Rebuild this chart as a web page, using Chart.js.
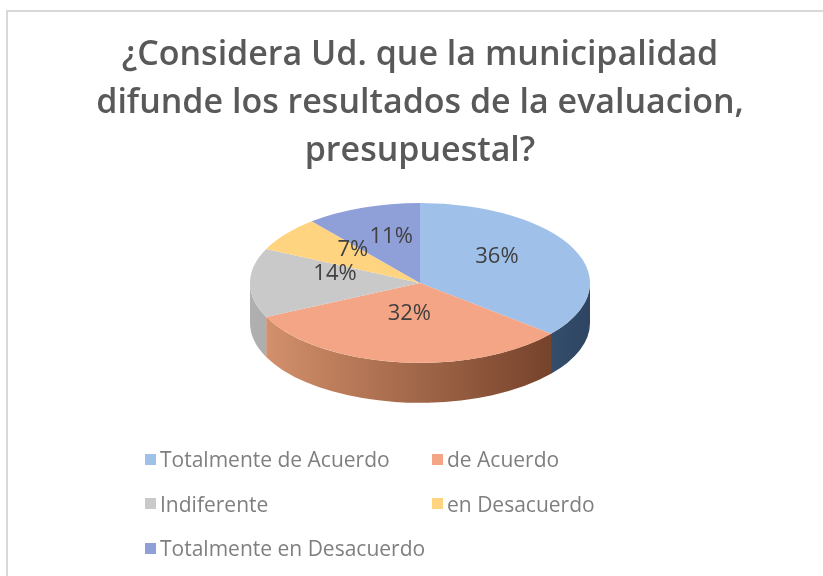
<!DOCTYPE html>
<html>
<head>
<meta charset="utf-8">
<script src="https://cdn.jsdelivr.net/npm/chart.js@4"></script>
<style>
  html, body { margin: 0; padding: 0; background: #fff; }
  #wrap { position: relative; width: 823px; height: 576px; overflow: hidden; }
  #frame { position: absolute; left: 6px; top: 10px; width: 900px; height: 700px;
           border-left: 2px solid #d9d9d9; border-top: 2px solid #d9d9d9; }
  #pie { position: absolute; left: 0; top: 0; }
  #legend { position: absolute; left: 145px; top: 437px; display: grid;
            grid-template-columns: 287px auto; grid-auto-rows: 44.5px;
            font-family: 'Open Sans', sans-serif; font-size: 21px; color: #7f7f7f; }
  .item { display: flex; align-items: center; white-space: nowrap; }
  .box { width: 11px; height: 11px; margin-right: 4px; }
</style>
</head>
<body>
<div id="wrap">
  <div id="frame"></div>
  <canvas id="pie" width="823" height="576"></canvas>
  <div id="legend"></div>
</div>
<script>
// datos
const categories = ['Totalmente de Acuerdo', 'de Acuerdo', 'Indiferente', 'en Desacuerdo', 'Totalmente en Desacuerdo'];
const percents = [36, 32, 14, 7, 11];
const titleLines = ['¿Considera Ud. que la municipalidad', 'difunde los resultados de la evaluacion,', 'presupuestal?'];

// colores: cara superior y costado (claro -> oscuro)
const topColors = ['#9fc0e8', '#f4a585', '#c9c9c9', '#ffd480', '#8fa0d9'];
const sideColors = [
    ['#6f8fb8', '#2d4562'],
    ['#d8946f', '#693822'],
    ['#b0b0b0', '#7a7a7a'],
    ['#e0b050', '#9c7420'],
    ['#6b7cb8', '#3a4a80']
];

const TILT = 0.47;      // aplastamiento vertical de la torta
const DEPTH = 40;       // grosor del costado
const LABEL_LIFT = 9;

// torta "3D": costado + cara superior aplastada
const pie3d = {
    id: 'pie3d',
    beforeDatasetsDraw(chart) {
        const ctx = chart.ctx;
        const arcs = chart.getDatasetMeta(0).data;
        arcs.forEach((arc, i) => {
            const { x, y, startAngle, endAngle, outerRadius } =
                arc.getProps(['x', 'y', 'startAngle', 'endAngle', 'outerRadius'], true);
            const grad = ctx.createLinearGradient(x - outerRadius, 0, x + outerRadius, 0);
            grad.addColorStop(0, sideColors[i][0]);
            grad.addColorStop(1, sideColors[i][1]);
            [[0, Math.PI], [2 * Math.PI, 3 * Math.PI]].forEach(([lo, hi]) => {
                const a0 = Math.max(startAngle, lo);
                const a1 = Math.min(endAngle, hi);
                if (a1 <= a0) return;
                ctx.beginPath();
                ctx.ellipse(x, y, outerRadius, outerRadius * TILT, 0, a0, a1);
                ctx.ellipse(x, y + DEPTH, outerRadius, outerRadius * TILT, 0, a1, a0, true);
                ctx.closePath();
                ctx.fillStyle = grad;
                ctx.fill();
            });
        });
        const { x, y } = arcs[0];
        ctx.save();
        ctx.translate(x, y);
        ctx.scale(1, TILT);
        ctx.translate(-x, -y);
    },
    afterDatasetsDraw(chart) {
        const ctx = chart.ctx;
        ctx.restore();
        const arcs = chart.getDatasetMeta(0).data;
        ctx.save();
        ctx.font = '22px "Open Sans"';
        ctx.fillStyle = '#404040';
        ctx.textAlign = 'center';
        ctx.textBaseline = 'middle';
        arcs.forEach((arc, i) => {
            const p = arc.tooltipPosition(true);
            ctx.fillText(percents[i] + '%', p.x, arc.y + (p.y - arc.y) * TILT - LABEL_LIFT);
        });
        ctx.restore();
    }
};

new Chart(document.getElementById('pie'), {
    type: 'pie',
    data: {
        labels: categories,
        datasets: [{
            data: percents,
            backgroundColor: topColors,
            borderWidth: 0,
            hoverOffset: 0,
            clip: false
        }]
    },
    options: {
        responsive: false,
        animation: false,
        events: [],
        radius: 170,
        layout: {
            padding: { left: 17, bottom: 185 }
        },
        plugins: {
            legend: { display: false },
            tooltip: { enabled: false },
            title: {
                display: true,
                text: titleLines,
                color: '#595959',
                font: { family: "'Open Sans', sans-serif", size: 34, weight: '600', lineHeight: 1.41 },
                padding: { top: 31, bottom: 0 }
            }
        }
    },
    plugins: [pie3d]
});

// leyenda
const legend = document.getElementById('legend');
categories.forEach((name, i) => {
    const item = document.createElement('div');
    item.className = 'item';
    item.innerHTML = `<span class="box" style="background:${topColors[i]}"></span><span>${name}</span>`;
    legend.appendChild(item);
});
</script>
</body>
</html>
